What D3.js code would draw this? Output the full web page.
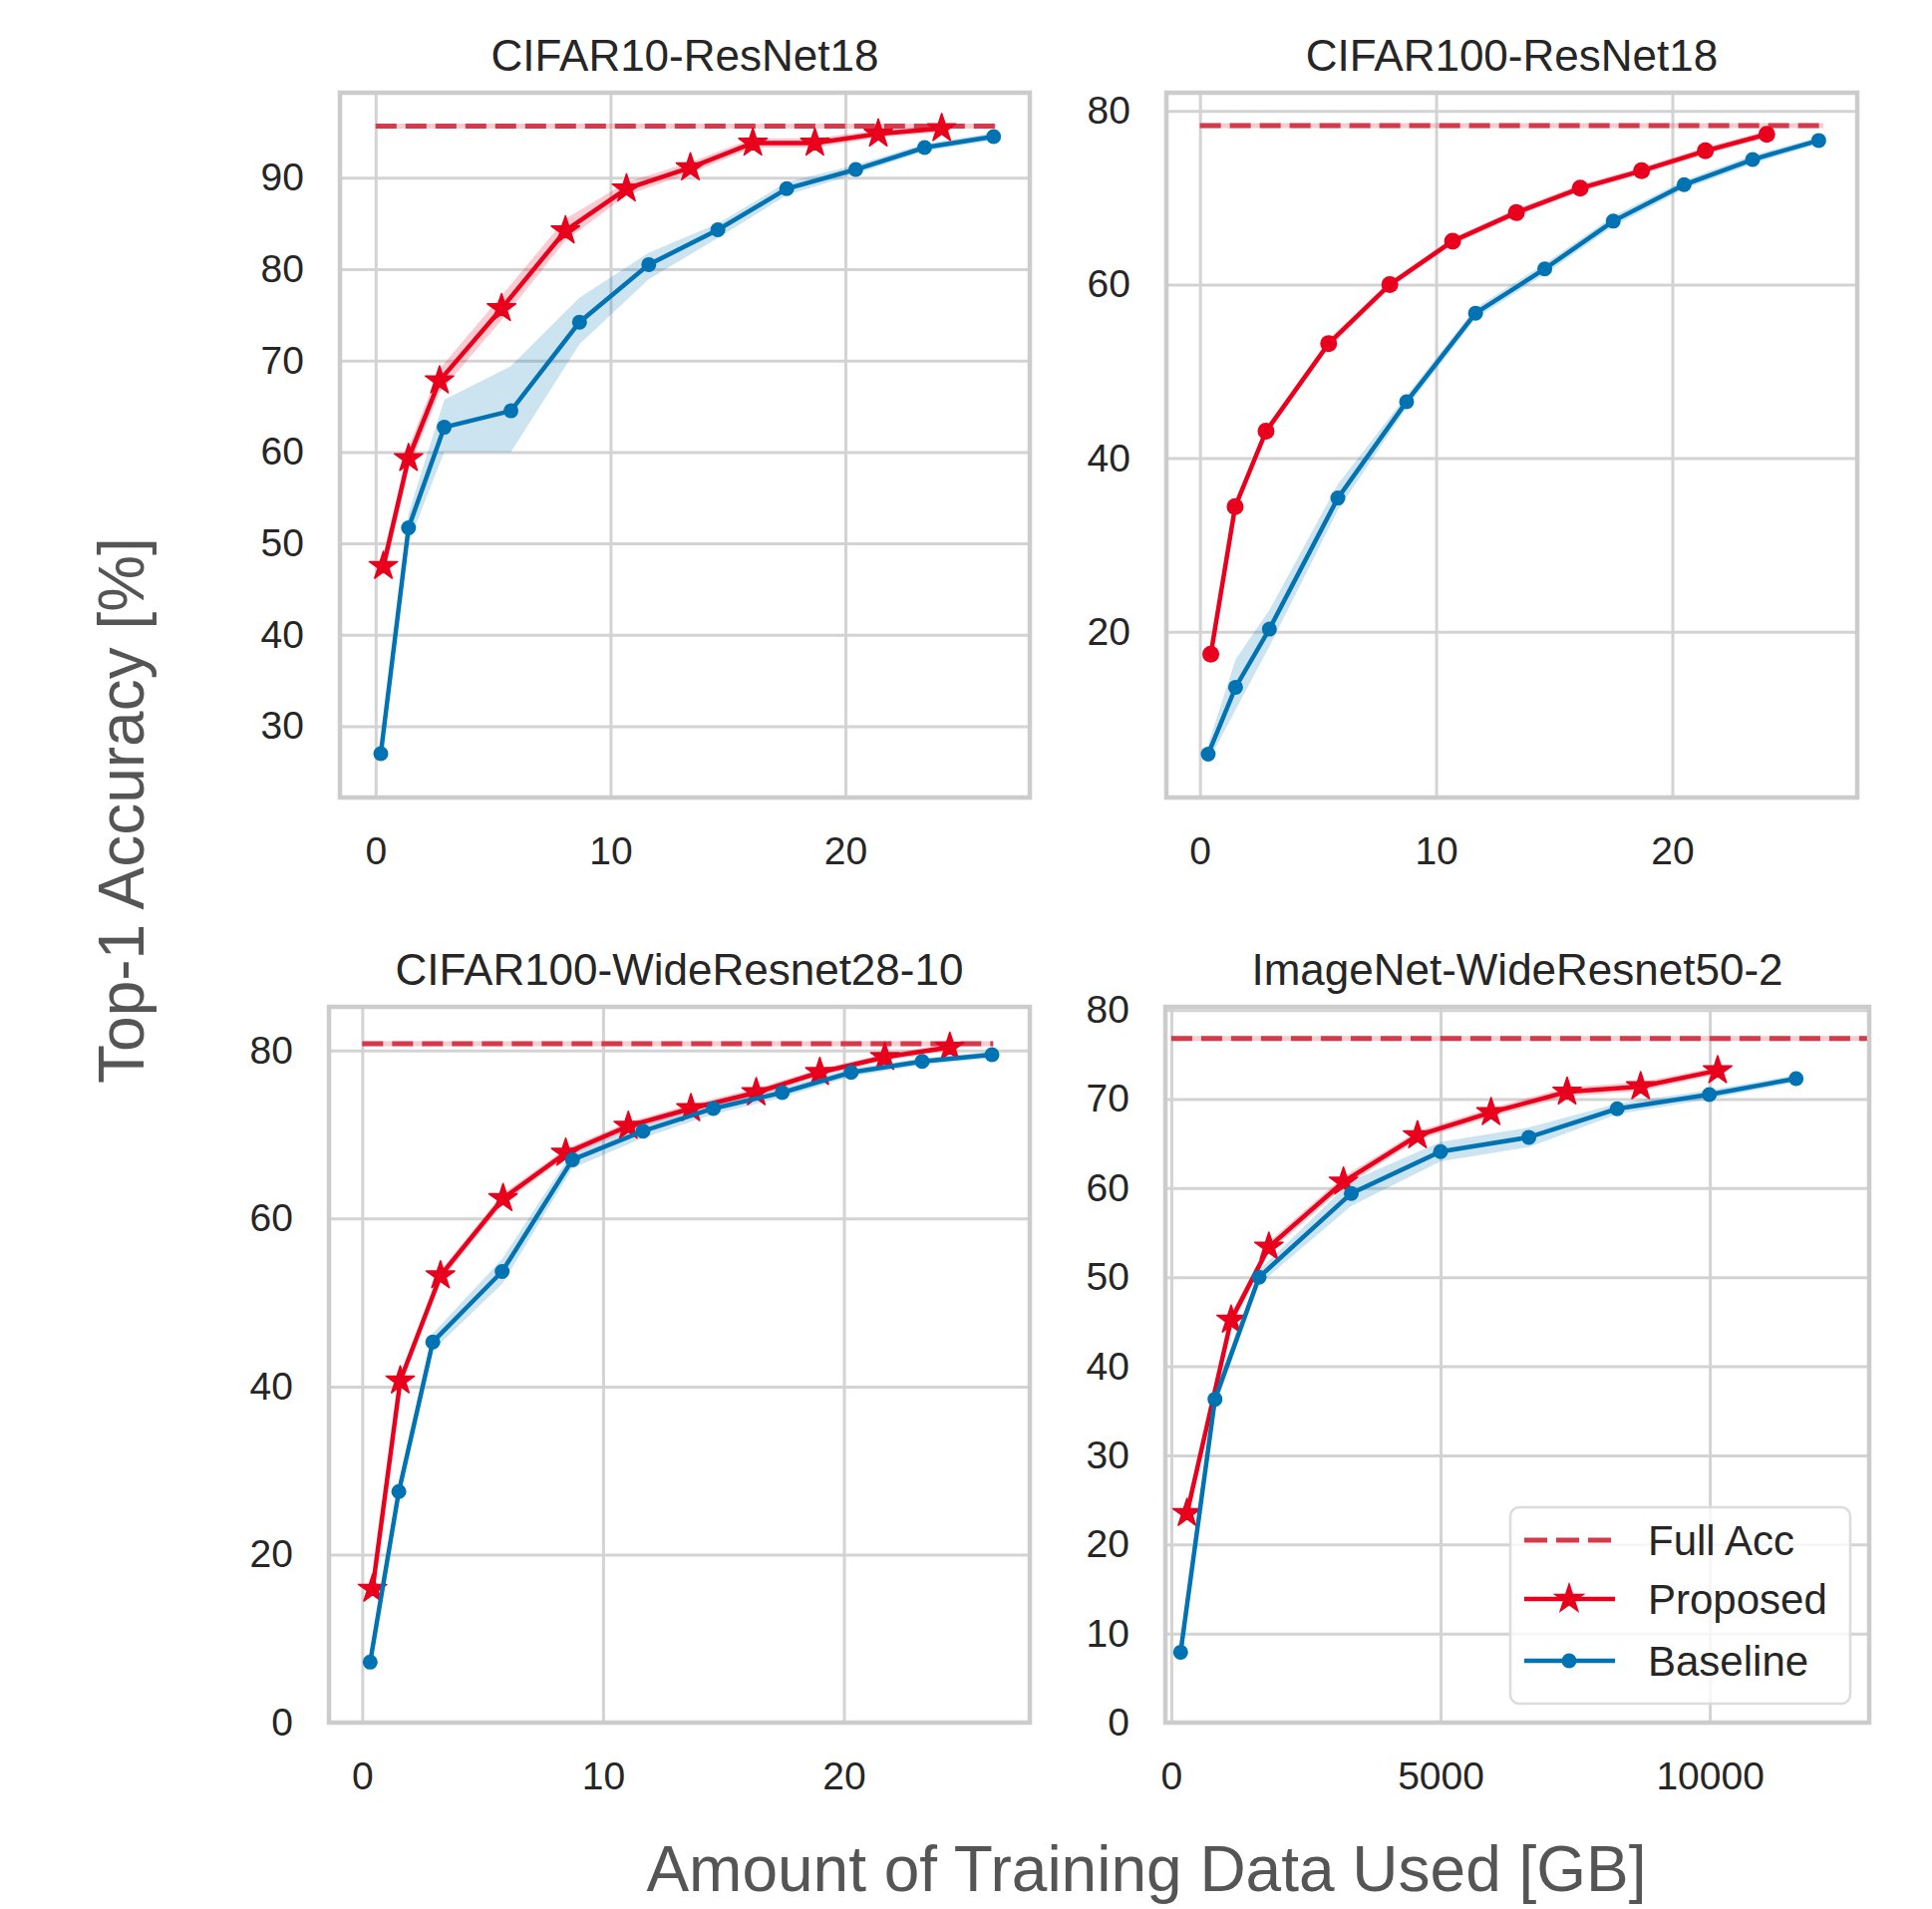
<!DOCTYPE html>
<html>
<head>
<meta charset="utf-8">
<script src="https://cdnjs.cloudflare.com/ajax/libs/d3/7.8.5/d3.min.js"></script>
<style>
body { margin: 0; background: #fff; }
text { font-family: "Liberation Sans", Arial, sans-serif; }
</style>
</head>
<body>
<div id="canvas"></div>
<script>

var titles = ["CIFAR10-ResNet18", "CIFAR100-ResNet18", "CIFAR100-WideResnet28-10", "ImageNet-WideResnet50-2"];
var seriesNames = ["Full Acc", "Proposed", "Baseline"];

// --- CIFAR10-ResNet18 ---
var c10PropX  = [0.33, 1.40, 2.72, 5.36, 8.08, 10.68, 13.4, 16.06, 18.7, 21.4, 24.1];
var c10PropY  = [47.5, 59.3, 67.8, 75.7, 84.2, 88.8, 91.1, 93.8, 93.8, 94.8, 95.4];
var c10PropLo = [46.2, 58.2, 66.5, 74.4, 83.1, 88.1, 90.5, 93.3, 93.3, 94.4, 95.0];
var c10PropHi = [48.8, 60.5, 69.1, 77.1, 85.5, 89.5, 91.7, 94.3, 94.3, 95.2, 95.8];
var c10BaseX  = [0.22, 1.40, 2.92, 5.76, 8.68, 11.63, 14.57, 17.5, 20.44, 23.37, 26.31];
var c10BaseY  = [27.0, 51.7, 62.7, 64.5, 74.2, 80.5, 84.3, 88.8, 90.9, 93.3, 94.5];
var c10BaseLo = [25.8, 50.0, 60.0, 60.0, 71.8, 78.9, 83.4, 88.1, 90.4, 92.9, 94.1];
var c10BaseHi = [28.2, 53.3, 65.7, 69.4, 76.9, 81.8, 85.0, 89.5, 91.4, 93.7, 94.9];
var c10Full = 95.65;

// --- CIFAR100-ResNet18 ---
var c100PropX  = [0.46, 1.49, 2.80, 5.45, 8.04, 10.7, 13.4, 16.1, 18.7, 21.4, 24.0];
var c100PropY  = [17.4, 34.4, 43.1, 53.2, 60.0, 65.0, 68.3, 71.1, 73.1, 75.4, 77.3];
var c100PropLo = [16.6, 33.8, 42.6, 52.7, 59.6, 64.6, 67.9, 70.7, 72.7, 75.0, 76.9];
var c100PropHi = [18.2, 35.0, 43.6, 53.7, 60.4, 65.4, 68.7, 71.5, 73.5, 75.8, 77.7];
var c100BaseX  = [0.35, 1.51, 2.94, 5.84, 8.75, 11.67, 14.6, 17.5, 20.5, 23.4, 26.2];
var c100BaseY  = [5.9, 13.6, 20.3, 35.4, 46.5, 56.7, 61.8, 67.3, 71.5, 74.4, 76.6];
var c100BaseLo = [5.0, 11.0, 18.3, 34.0, 45.8, 56.1, 61.2, 66.7, 71.0, 73.9, 76.2];
var c100BaseHi = [7.0, 16.8, 22.5, 37.0, 47.2, 57.3, 62.4, 67.9, 72.0, 74.9, 77.0];
var c100Full = 78.3;

// --- CIFAR100-WideResnet28-10 ---
var wrnPropX  = [0.43, 1.58, 3.25, 5.85, 8.45, 11.05, 13.65, 16.36, 19.0, 21.7, 24.4];
var wrnPropY  = [15.9, 40.7, 53.2, 62.4, 67.8, 71.0, 73.1, 75.0, 77.4, 79.2, 80.4];
var wrnPropLo = [15.1, 40.0, 52.6, 61.8, 67.3, 70.5, 72.6, 74.5, 77.0, 78.8, 80.0];
var wrnPropHi = [16.7, 41.4, 53.8, 63.0, 68.3, 71.5, 73.6, 75.5, 77.8, 79.6, 80.8];
var wrnBaseX  = [0.33, 1.52, 2.93, 5.81, 8.73, 11.66, 14.58, 17.44, 20.3, 23.25, 26.15];
var wrnBaseY  = [7.2, 27.5, 45.3, 53.7, 67.0, 70.4, 73.1, 75.0, 77.4, 78.7, 79.5];
var wrnBaseLo = [6.5, 26.7, 44.3, 52.2, 66.0, 69.6, 72.4, 74.4, 76.9, 78.3, 79.1];
var wrnBaseHi = [7.9, 28.3, 46.3, 55.2, 68.0, 71.2, 73.8, 75.6, 77.9, 79.1, 79.9];
var wrnFull = 80.8;

// --- ImageNet-WideResnet50-2 ---
var imnPropX  = [291, 1111, 1812, 3197, 4572, 5938, 7350, 8716, 10146];
var imnPropY  = [23.5, 45.2, 53.4, 60.7, 65.9, 68.5, 70.8, 71.4, 73.2];
var imnPropLo = [22.6, 44.5, 52.8, 60.1, 65.4, 68.0, 70.3, 70.9, 72.8];
var imnPropHi = [24.4, 45.9, 54.0, 61.3, 66.4, 69.0, 71.3, 71.9, 73.6];
var imnBaseX  = [173, 811, 1630, 3342, 5000, 6639, 8279, 9991, 11603];
var imnBaseY  = [7.9, 36.3, 50.0, 59.4, 64.1, 65.7, 68.9, 70.5, 72.3];
var imnBaseLo = [7.2, 35.3, 49.2, 58.0, 63.0, 64.6, 68.3, 70.0, 71.9];
var imnBaseHi = [8.6, 37.3, 50.8, 60.8, 65.2, 66.8, 69.5, 71.0, 72.7];
var imnFull = 76.8;

// tick labels
var gbTicks = [0, 10, 20];
var imnXTicks = [0, 5000, 10000];
var c10YTicks = [30, 40, 50, 60, 70, 80, 90];
var c100YTicks = [20, 40, 60, 80];
var wrnYTicks = [0, 20, 40, 60, 80];
var imnYTicks = [0, 10, 20, 30, 40, 50, 60, 70, 80];

var red = "#e8001c", blue = "#0173b2", fullRed = "#d63a4a";
var gridColor = "#d3d3d3", spineColor = "#cccccc";

function zipBand(xs, ys, lo, hi) {
  return xs.map(function(d, i) { return {x: d, y: ys[i], lo: lo[i], hi: hi[i]}; });
}

// panel layout (pixel boxes: left, right, top, bottom)
var panels = [
  {title: titles[0], box: [341, 1033, 93, 800], xDomain: [-1.52, 27.85], yDomain: [22.2, 99.3],
   xTicks: gbTicks, yTicks: c10YTicks, full: c10Full, fullEnd: 26.4, propMarker: "star",
   prop: zipBand(c10PropX, c10PropY, c10PropLo, c10PropHi), base: zipBand(c10BaseX, c10BaseY, c10BaseLo, c10BaseHi)},
  {title: titles[1], box: [1170, 1863, 93, 800], xDomain: [-1.42, 27.83], yDomain: [0.9, 82.1],
   xTicks: gbTicks, yTicks: c100YTicks, full: c100Full, fullEnd: 26.4, propMarker: "circle",
   prop: zipBand(c100PropX, c100PropY, c100PropLo, c100PropHi), base: zipBand(c100BaseX, c100BaseY, c100BaseLo, c100BaseHi)},
  {title: titles[2], box: [330, 1033, 1010, 1728], xDomain: [-1.38, 27.72], yDomain: [0, 85.2],
   xTicks: gbTicks, yTicks: wrnYTicks, full: wrnFull, fullEnd: 26.2, propMarker: "star",
   prop: zipBand(wrnPropX, wrnPropY, wrnPropLo, wrnPropHi), base: zipBand(wrnBaseX, wrnBaseY, wrnBaseLo, wrnBaseHi)},
  {title: titles[3], box: [1169, 1875, 1010, 1728], xDomain: [-110, 12960], yDomain: [0, 80.35],
   xTicks: imnXTicks, yTicks: imnYTicks, full: imnFull, fullEnd: 14000, propMarker: "star", legend: true,
   prop: zipBand(imnPropX, imnPropY, imnPropLo, imnPropHi), base: zipBand(imnBaseX, imnBaseY, imnBaseLo, imnBaseHi)}
];

var svg = d3.select("#canvas").append("svg")
    .attr("width", 1938)
    .attr("height", 1915);

// matplotlib '*' markers are chunkier than d3's default star
var star = d3.symbol().type(d3.symbolStar).size(250);

function drawPanel(p, idx) {
  var x = d3.scaleLinear().domain(p.xDomain).range([p.box[0], p.box[1]]);
  var y = d3.scaleLinear().domain(p.yDomain).range([p.box[3], p.box[2]]);
  var w = p.box[1] - p.box[0], h = p.box[3] - p.box[2];
  var g = svg.append("g");

  g.append("clipPath").attr("id", "clip" + idx)
    .append("rect").attr("x", p.box[0]).attr("y", p.box[2]).attr("width", w).attr("height", h);

  // axes with grid lines as ticks
  var ax = g.append("g")
      .attr("transform", "translate(0," + p.box[3] + ")")
      .call(d3.axisBottom(x).tickValues(p.xTicks).tickFormat(d3.format("d")).tickSize(-h).tickPadding(39));
  var ay = g.append("g")
      .attr("transform", "translate(" + p.box[0] + ",0)")
      .call(d3.axisLeft(y).tickValues(p.yTicks).tickFormat(d3.format("d")).tickSize(-w).tickPadding(36));
  [ax, ay].forEach(function(a) {
    a.select(".domain").remove();
    a.selectAll(".tick line").attr("stroke", gridColor).attr("stroke-width", 3);
    a.selectAll(".tick text").attr("fill", "#262626").style("font-size", "39px");
  });

  var plot = g.append("g").attr("clip-path", "url(#clip" + idx + ")");

  var area = d3.area().x(function(d) { return x(d.x); })
      .y0(function(d) { return y(d.lo); }).y1(function(d) { return y(d.hi); });
  var line = d3.line().x(function(d) { return x(d.x); }).y(function(d) { return y(d.y); });

  plot.append("path").datum(p.prop).attr("d", area).attr("fill", red).attr("fill-opacity", 0.2);
  plot.append("path").datum(p.base).attr("d", area).attr("fill", blue).attr("fill-opacity", 0.2);

  // full accuracy reference line
  plot.append("line")
    .attr("x1", x(0)).attr("x2", x(p.fullEnd)).attr("y1", y(p.full)).attr("y2", y(p.full))
    .attr("stroke", fullRed).attr("stroke-opacity", 0.25).attr("stroke-width", 5);
  plot.append("line")
    .attr("x1", x(0)).attr("x2", x(p.fullEnd)).attr("y1", y(p.full)).attr("y2", y(p.full))
    .attr("stroke", fullRed).attr("stroke-width", 5).attr("stroke-dasharray", "21,9");

  // proposed
  plot.append("path").datum(p.prop).attr("d", line)
    .attr("fill", "none").attr("stroke", red).attr("stroke-width", 4.5);
  if (p.propMarker === "star") {
    plot.selectAll(".pm").data(p.prop).enter().append("path")
      .attr("d", star)
      .attr("transform", function(d) { return "translate(" + x(d.x) + "," + y(d.y) + ")"; })
      .attr("fill", red).attr("stroke", red).attr("stroke-width", 1.5).attr("stroke-linejoin", "round");
  } else {
    plot.selectAll(".pm").data(p.prop).enter().append("circle")
      .attr("cx", function(d) { return x(d.x); }).attr("cy", function(d) { return y(d.y); })
      .attr("r", 8.5).attr("fill", red);
  }

  // baseline
  plot.append("path").datum(p.base).attr("d", line)
    .attr("fill", "none").attr("stroke", blue).attr("stroke-width", 4.5);
  plot.selectAll(".bm").data(p.base).enter().append("circle")
    .attr("cx", function(d) { return x(d.x); }).attr("cy", function(d) { return y(d.y); })
    .attr("r", 7.5).attr("fill", blue);

  // spines
  g.append("rect")
    .attr("x", p.box[0]).attr("y", p.box[2]).attr("width", w).attr("height", h)
    .attr("fill", "none").attr("stroke", spineColor).attr("stroke-width", 4.5);

  g.append("text")
    .attr("x", (p.box[0] + p.box[1]) / 2).attr("y", p.box[2] - 22)
    .attr("text-anchor", "middle").attr("fill", "#262626")
    .style("font-size", "44px").text(p.title);

  if (p.legend) drawLegend(g);
}

function drawLegend(g) {
  var lx = 1515, ly = 1512;
  var leg = g.append("g").attr("transform", "translate(" + lx + "," + ly + ")");
  leg.append("rect").attr("width", 341).attr("height", 197).attr("rx", 9)
    .attr("fill", "#fff").attr("fill-opacity", 0.8)
    .attr("stroke", "#dcdcdc").attr("stroke-width", 2.5);
  var rows = [33, 92, 154];
  seriesNames.forEach(function(name, i) {
    var row = leg.append("g").attr("transform", "translate(0," + rows[i] + ")");
    var ln = row.append("line").attr("x1", 14).attr("x2", 105).attr("y1", 0).attr("y2", 0)
      .attr("stroke-width", i === 0 ? 5 : 4.5);
    if (i === 0) ln.attr("stroke", fullRed).attr("stroke-dasharray", "23,9");
    if (i === 1) {
      ln.attr("stroke", red);
      row.append("path").attr("d", star).attr("transform", "translate(59,0)")
        .attr("fill", red).attr("stroke", red).attr("stroke-width", 1.5);
    }
    if (i === 2) {
      ln.attr("stroke", blue);
      row.append("circle").attr("cx", 59).attr("cy", 0).attr("r", 7.5).attr("fill", blue);
    }
    row.append("text").attr("x", 138).attr("y", 0).attr("dy", "0.36em")
      .attr("fill", "#262626").style("font-size", "42px").text(name);
  });
}

panels.forEach(drawPanel);

// shared axis labels
svg.append("text")
  .attr("x", 1150).attr("y", 1897)
  .attr("text-anchor", "middle").attr("fill", "#555555")
  .style("font-size", "64px")
  .text("Amount of Training Data Used [GB]");

svg.append("text")
  .attr("transform", "translate(144,813) rotate(-90)")
  .attr("text-anchor", "middle").attr("fill", "#555555")
  .style("font-size", "64px")
  .text("Top-1 Accuracy [%]");

</script>
</body>
</html>
